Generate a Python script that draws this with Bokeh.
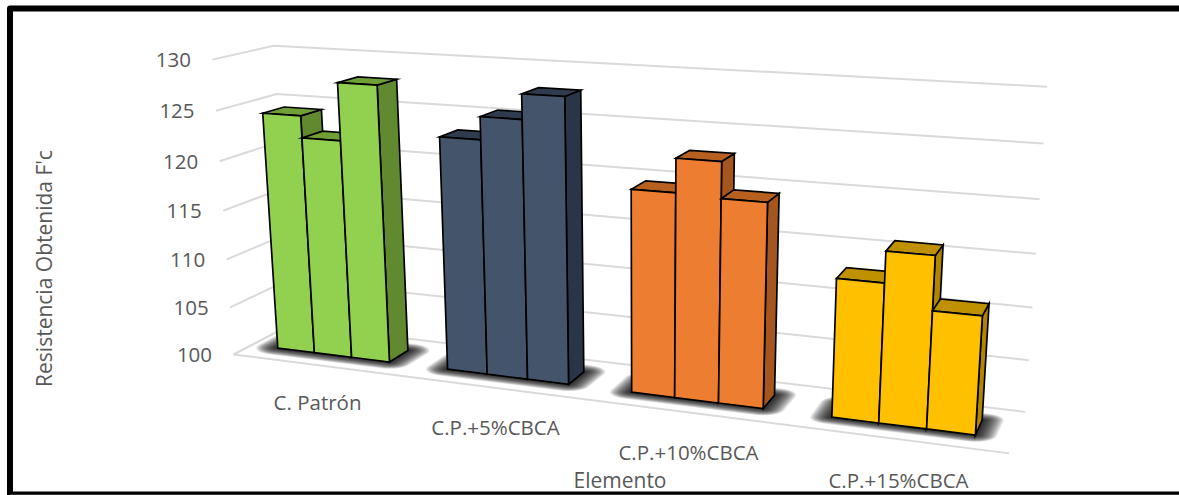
import numpy as np
from bokeh.embed import file_html
from bokeh.models import Range1d
from bokeh.plotting import figure
from bokeh.resources import INLINE
from bokeh.core.properties import value

# Values per element, three specimens each
categories = ["C. Patrón", "C.P.+5%CBCA", "C.P.+10%CBCA", "C.P.+15%CBCA"]
specimen_1 = [124.4, 123.3, 119.7, 113.1]
specimen_2 = [122.2, 125.5, 122.9, 116.0]
specimen_3 = [127.9, 127.9, 119.5, 111.0]
y_ticks = [100, 105, 110, 115, 120, 125, 130]
y_title = "Resistencia Obtenida F'c"
x_title = "Elemento"

face_colors = ["#92D050", "#44546A", "#ED7D31", "#FFC000"]
top_colors = ["#70A035", "#2F3C50", "#B8601F", "#BF9000"]
side_colors = ["#618A30", "#2A3648", "#A5561F", "#B08600"]

W, H = 1179, 495
V_MIN, V_MAX = 100.0, 130.0
FONT = value("Open Sans")
TEXT_COLOR = "#595959"

# Perspective camera calibrated on the corners of the plot box: (u, depth, height) -> page
front_left = [(233, 353), (229, 307), (226, 259), (223, 210), (219, 161), (216, 110), (212, 60)]
back_right = [(1025, 411), (1028, 360), (1032, 307), (1035, 253), (1039, 199), (1043, 143), (1047, 86)]
anchors = []
for k, (fl, br) in enumerate(zip(front_left, back_right)):
    anchors.append(((0, 0, k / 6), fl))
    anchors.append(((1, 1, k / 6), br))
anchors += [((0, 1, 1), (273, 45)), ((0, 1, 5 / 6), (276, 93)),
            ((1, 0, 0), (1009, 453)), ((0, 1, 0), (291, 325))]

rows = []
for (a, b, c), (px, py) in anchors:
    q = [a, b, c, 1.0]
    rows.append(q + [0, 0, 0, 0] + [-px * t for t in q])
    rows.append([0, 0, 0, 0] + q + [-py * t for t in q])
camera = np.linalg.svd(np.array(rows, float))[2][-1].reshape(3, 4)


def project(u, d, v):
    """Page position of category position u, depth d and axis value v."""
    h = (v - V_MIN) / (V_MAX - V_MIN)
    x, y, w = camera @ np.array([u, d, h, 1.0])
    return x / w, y / w


def poly(points):
    pts = [project(*pt) for pt in points]
    return [q[0] for q in pts], [q[1] for q in pts]


def convex_hull(points):
    pts = sorted(set(points))

    def half(seq):
        out = []
        for q in seq:
            while len(out) > 1 and (out[-1][0] - out[-2][0]) * (q[1] - out[-2][1]) - (out[-1][1] - out[-2][1]) * (q[0] - out[-2][0]) <= 0:
                out.pop()
            out.append(q)
        return out[:-1]

    return half(pts) + half(pts[::-1])


def rounded_footprint(corners, rx, ry):
    """Footprint grown by an ellipse, giving round corners to the shadow layers."""
    angles = np.linspace(0, 2 * np.pi, 24, endpoint=False)
    cloud = [(cx + rx * np.cos(t), cy + ry * np.sin(t)) for cx, cy in corners for t in angles]
    hull = convex_hull(cloud)
    return [q[0] for q in hull], [q[1] for q in hull]


p = figure(width=W, height=H, x_range=Range1d(0, W), y_range=Range1d(H, 0),
           output_backend="svg", toolbar_location=None, min_border=0,
           background_fill_color="white", border_fill_color="white", outline_line_color=None)
p.axis.visible = False
p.grid.visible = False

# Chart frame; it runs on past the right and bottom of the page
p.line([W + 20, 9.5, 9.5, W + 20], [8, 8, 494, 494], line_color="black", line_width=6, line_join="round")
p.line([9.5, W + 20], [494.5, 494.5], line_color="#333333", line_width=2)

# Grid lines across side wall and back wall
grid_xs, grid_ys = [], []
for t in y_ticks:
    xs, ys = poly([(0, 0, t), (0, 1, t), (1, 1, t)])
    grid_xs.append(xs)
    grid_ys.append(ys)
xs, ys = poly([(0, 1, 100), (0, 0, 100), (1, 0, 100)])
grid_xs.append(xs)
grid_ys.append(ys)
p.multi_line(grid_xs, grid_ys, line_color="#DADADA", line_width=2)

CLUSTER = 2 / 3
U_SHIFT = -0.002
D0, D1 = 0.31, 0.67
series = [specimen_1, specimen_2, specimen_3]


def cluster_start(c):
    return (c + (1 - CLUSTER) / 2) / 4 + U_SHIFT


# Soft floor shadow: stacked translucent footprints, largest first
LAYERS = 30
for c in range(len(categories)):
    u0 = cluster_start(c)
    u1 = u0 + CLUSTER / 4
    corners = [project(u0, D0, 100), project(u1, D0, 100), project(u1, D1, 100), project(u0, D1, 100)]
    sx, sy = [], []
    for i in range(LAYERS):
        f = 1 - i / LAYERS
        xs, ys = rounded_footprint(corners, 22 * f, 7 * f)
        sx.append(xs)
        sy.append(ys)
    p.patches(sx, sy, fill_color="black", fill_alpha=0.05, line_color=None)

# Bars, painted left to right so each one overlaps its neighbour's side
for c in range(len(categories)):
    u0 = cluster_start(c)
    bw = CLUSTER / 4 / 3
    for s, vals in enumerate(series):
        a, b, v = u0 + s * bw, u0 + (s + 1) * bw, vals[c]
        faces = [
            ([(b, D0, 100), (b, D1, 100), (b, D1, v), (b, D0, v)], side_colors[c]),
            ([(a, D0, v), (b, D0, v), (b, D1, v), (a, D1, v)], top_colors[c]),
            ([(a, D0, 100), (b, D0, 100), (b, D0, v), (a, D0, v)], face_colors[c]),
        ]
        for pts, color in faces:
            xs, ys = poly(pts)
            p.patch(xs, ys, fill_color=color, line_color="black", line_width=1.7, line_join="miter")

# Value axis labels sit just left of the side wall's front edge
tick_x, tick_y, tick_txt = [], [], []
for t in y_ticks:
    x, y = project(0, 0, t)
    tick_x.append(x - 21.5)
    tick_y.append(y + 0.5)
    tick_txt.append(str(t))
p.text(tick_x, tick_y, text=tick_txt, text_font=FONT, text_font_size="20.5px",
       text_color=TEXT_COLOR, text_align="right", text_baseline="middle")

label_x = [317, 495, 688, 898]
label_y = [401, 426, 451, 479]
p.text(label_x, label_y, text=categories, text_font=FONT, text_font_size="20.5px",
       text_color=TEXT_COLOR, text_align="center", text_baseline="middle")

p.text([619.5], [479], text=[x_title], text_font=FONT, text_font_size="21px",
       text_color=TEXT_COLOR, text_align="center", text_baseline="middle")
p.text([43.5], [268], text=[y_title], angle=[np.pi / 2], text_font=FONT, text_font_size="21px",
       text_color=TEXT_COLOR, text_align="center", text_baseline="middle")

open("out.html", "w").write(file_html(p, INLINE))
